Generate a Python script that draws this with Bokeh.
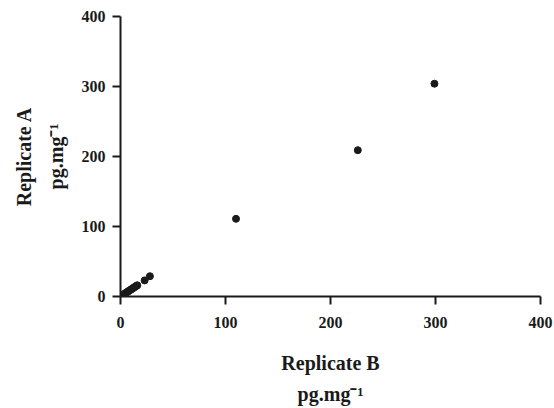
from bokeh.plotting import figure
from bokeh.embed import file_html
from bokeh.resources import INLINE
from bokeh.models import FixedTicker, Range1d

# Replicate B (x) vs Replicate A (y), pg.mg^-1
rep_b = [1, 2, 3, 4, 5, 6, 7, 8, 9, 10, 11, 12, 13, 14, 15, 16, 23, 28, 110, 226, 299]
rep_a = [1, 2, 3, 4, 5, 6, 7, 8, 9, 10, 11, 12, 13, 14, 15, 16, 23, 29, 111, 209, 304]
ticks = [0, 100, 200, 300, 400]

FONT = "Liberation Serif"

p = figure(width=554, height=408, output_backend="svg", toolbar_location=None,
           x_range=Range1d(0, 400), y_range=Range1d(0, 400),
           min_border_left=120, min_border_right=14, min_border_top=16, min_border_bottom=112)
p.outline_line_color = None
p.grid.grid_line_color = None
p.background_fill_color = "white"
p.border_fill_color = "white"

p.scatter(rep_b, rep_a, size=7, color="#1a1a1a")

for ax in (p.xaxis, p.yaxis):
    ax.ticker = FixedTicker(ticks=ticks)
    ax.minor_tick_line_color = None
    ax.axis_line_width = 2
    ax.major_tick_line_width = 2
    ax.major_tick_out = 8
    ax.major_tick_in = 0
    ax.axis_line_color = "#1a1a1a"
    ax.major_tick_line_color = "#1a1a1a"
    ax.major_label_text_font = FONT
    ax.major_label_text_font_style = "bold"
    ax.major_label_text_font_size = "16px"
    ax.major_label_text_color = "#1a1a1a"
    ax.axis_label_text_font = FONT
    ax.axis_label_text_font_style = "bold"
    ax.axis_label_text_font_size = "20px"
    ax.axis_label_text_line_height = 1.45
    ax.axis_label_text_color = "#1a1a1a"

p.xaxis.axis_label = "Replicate B\npg.mg\u207b\u00b9"
p.yaxis.axis_label = "Replicate A\npg.mg\u207b\u00b9"
p.xaxis.major_label_standoff = 12
p.yaxis.major_label_standoff = 7
p.xaxis.axis_label_standoff = 21
p.yaxis.axis_label_standoff = 12

open("out.html", "w").write(file_html(p, INLINE))
